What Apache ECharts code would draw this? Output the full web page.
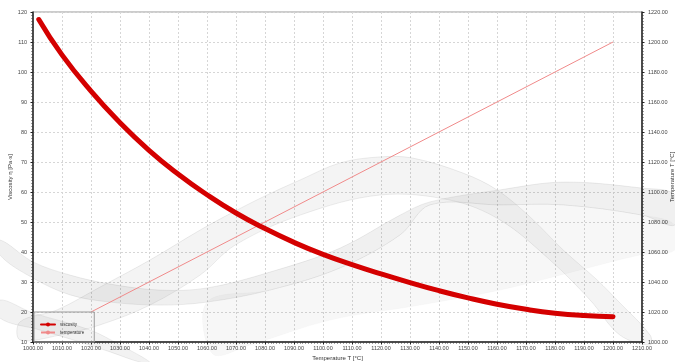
<!DOCTYPE html>
<html>
<head>
<meta charset="utf-8">
<script src="https://cdn.jsdelivr.net/npm/echarts@6/dist/echarts.min.js"></script>
<style>
  html, body { margin: 0; padding: 0; background: #fff; }
  #chart { width: 675px; height: 362px; }
</style>
</head>
<body>
<div id="chart"></div>
<script>
// Viscosity curve: [temperature °C, viscosity Pa·s]
const viscosityData = [
  [1002, 117.5], [1010, 105.7], [1020, 93.6], [1030, 83.1], [1040, 73.9],
  [1050, 66.0], [1060, 59.1], [1070, 53.0], [1080, 47.8], [1090, 43.2],
  [1100, 39.2], [1110, 35.8], [1120, 32.7], [1130, 29.8], [1140, 27.1],
  [1150, 24.7], [1160, 22.6], [1170, 20.9], [1180, 19.6], [1190, 18.8],
  [1200, 18.4]
];
// Temperature ramp on the right axis: [x temperature, T]
const temperatureData = [[1020, 1020], [1200, 1200]];

// Axis ranges and ticks
const xRange = { min: 1000, max: 1210, step: 10 };
const viscRange = { min: 10, max: 120, step: 10 };
const tempRange = { min: 1000, max: 1220, step: 20 };

// Decorative background ribbons, in chart units [T, η]
const arcTop = [[995.5,16.7],[1008.3,20.7],[1023.1,28.3],[1040.3,37.3],[1057.6,47.3],[1069,53.3],[1080.7,59],[1092.1,64],[1105.9,69.7],[1119.7,71.7],[1131,71.3],[1148.3,66.3],[1160,60.7],[1171.4,51.7],[1182.8,40.7],[1194.5,30.7],[1202.4,23],[1212.8,12.3]];
const arcBottom = [[995.5,10.7],[1009.3,12.3],[1023.1,15.7],[1040.3,22.3],[1057.6,32.3],[1069.7,42.3],[1092.1,52.3],[1119.7,59],[1143.8,57.3],[1161,50.7],[1178.3,37.3],[1192.1,24],[1202.4,12.3],[1212.8,9]];
const waveTop = [[988.6,44],[1000,36.7],[1012.8,32.3],[1026.6,29.3],[1043.8,27.3],[1060,28],[1081.7,33.3],[1105.9,41.3],[1126.6,52.3],[1136.9,56.7],[1161,60.7],[1182.8,63.3],[1210,61.3],[1221.4,59]];
const waveBottom = [[988.6,39],[1000,31.3],[1012.8,25.7],[1026.6,23.3],[1043.8,22.3],[1060,23.3],[1081.7,27.3],[1105.9,34.7],[1126.6,45.7],[1136.9,55.7],[1161,55.7],[1182.8,55.7],[1210,52.3],[1221.4,49]];
const fanTop = [[1060,23.3],[1081.7,27.3],[1105.9,34.7],[1126.6,45.7],[1136.9,55.7],[1161,55.7],[1182.8,55.7],[1210,52.3],[1221.4,49]];
const fanBottom = [[1062,6],[1074.8,9],[1102.4,17.3],[1133.4,22.3],[1161,27.3],[1188.6,34],[1209.3,39],[1221.4,40.7]];
const tailTop = [[988.6,24],[1000,19.7],[1019.7,14],[1030,9],[1040.3,3.3]];
const tailBottom = [[988.6,18],[1002.4,14],[1016.2,10],[1026.6,6.7],[1036.9,3.3]];

const ribbons = [
  { top: arcTop, bottom: arcBottom, fill: 'rgba(0,0,0,0.045)', edge: 'rgba(0,0,0,0.13)' },
  { top: waveTop, bottom: waveBottom, fill: 'rgba(0,0,0,0.06)', edge: 'rgba(0,0,0,0.12)' },
  { top: fanTop, bottom: fanBottom, fill: 'rgba(0,0,0,0.03)', edge: 'rgba(0,0,0,0.04)' },
  { top: tailTop, bottom: tailBottom, fill: 'rgba(0,0,0,0.05)', edge: 'rgba(0,0,0,0.12)' }
];

const chart = echarts.init(document.getElementById('chart'));
const labelFont = { fontSize: 5.5, color: '#444', fontFamily: 'Liberation Sans, Arial, sans-serif' };
const nameFont = { fontSize: 6, color: '#333', fontFamily: 'Liberation Sans, Arial, sans-serif' };
const gridDash = { color: '#d6d6d6', type: [2, 2], width: 1 };

chart.setOption({
  animation: false,
  grid: {
    left: 33, right: 33, top: 12, bottom: 20, outerBoundsMode: 'none', containLabel: false,
    show: true, borderColor: '#999', borderWidth: 1
  },
  legend: {
    orient: 'vertical', left: 34, top: 312,
    padding: [10, 10, 7, 6], itemGap: 3, itemWidth: 14, itemHeight: 5,
    borderColor: '#999', borderWidth: 1,
    textStyle: { fontSize: 4.5, color: '#333', fontFamily: 'Liberation Sans, Arial, sans-serif' },
    data: ['viscosity', 'temperature']
  },
  xAxis: {
    type: 'value', min: xRange.min, max: xRange.max, interval: xRange.step,
    name: 'Temperature T [°C]', nameLocation: 'middle', nameGap: 13, nameTextStyle: nameFont,
    nameMoveOverlap: false,
    axisLine: { lineStyle: { color: '#222', width: 1.5 } },
    axisTick: { show: true, inside: false, length: 2.5, lineStyle: { color: '#222' } },
    minorTick: { show: true, splitNumber: 10, length: 1.5, lineStyle: { color: '#444' } },
    axisLabel: Object.assign({ margin: 3, formatter: v => v.toFixed(2) }, labelFont),
    splitLine: { show: true, lineStyle: gridDash }
  },
  yAxis: [
    {
      type: 'value', min: viscRange.min, max: viscRange.max, interval: viscRange.step,
      name: 'Viscosity η [Pa·s]', nameLocation: 'middle', nameGap: 20, nameTextStyle: nameFont,
      nameMoveOverlap: false,
      axisLine: { show: true, lineStyle: { color: '#222', width: 1.5 } },
      axisTick: { show: true, length: 2.5, lineStyle: { color: '#222' } },
      minorTick: { show: true, splitNumber: 10, length: 1.5, lineStyle: { color: '#444' } },
      axisLabel: Object.assign({ margin: 6, formatter: v => String(v) }, labelFont),
      splitLine: { show: true, lineStyle: gridDash }
    },
    {
      type: 'value', min: tempRange.min, max: tempRange.max, interval: tempRange.step, position: 'right',
      name: 'Temperature T [°C]', nameLocation: 'middle', nameGap: 27, nameTextStyle: nameFont,
      nameMoveOverlap: false,
      axisLine: { show: true, lineStyle: { color: '#222', width: 1.5 } },
      axisTick: { show: true, length: 2.5, lineStyle: { color: '#222' } },
      minorTick: { show: true, splitNumber: 10, length: 1.5, lineStyle: { color: '#444' } },
      axisLabel: Object.assign({ margin: 6, formatter: v => v.toFixed(2) }, labelFont),
      splitLine: { show: false }
    }
  ],
  series: [
    {
      type: 'custom', name: 'ribbons', silent: true, z: 1, clip: false,
      data: ribbons.map((r, i) => [1100, 50, i]),
      encode: { x: 0, y: 1 },
      renderItem: function (params, api) {
        const r = ribbons[api.value(2)];
        const pts = r.top.map(p => api.coord(p))
          .concat(r.bottom.slice().reverse().map(p => api.coord(p)));
        return {
          type: 'polygon',
          shape: { points: pts, smooth: 0.35 },
          style: { fill: r.fill, stroke: r.edge, lineWidth: 0.6 }
        };
      }
    },
    {
      name: 'temperature', type: 'line', yAxisIndex: 1, z: 3,
      data: temperatureData, symbol: 'none',
      lineStyle: { color: '#f08a8a', width: 1 }, itemStyle: { color: '#f08a8a' }
    },
    {
      name: 'viscosity', type: 'line', yAxisIndex: 0, z: 4,
      data: viscosityData, smooth: true, symbol: 'circle', symbolSize: 6, showSymbol: false,
      lineStyle: { color: '#d40000', width: 5, cap: 'round' }, itemStyle: { color: '#d40000' }
    }
  ]
});
</script>
</body>
</html>
